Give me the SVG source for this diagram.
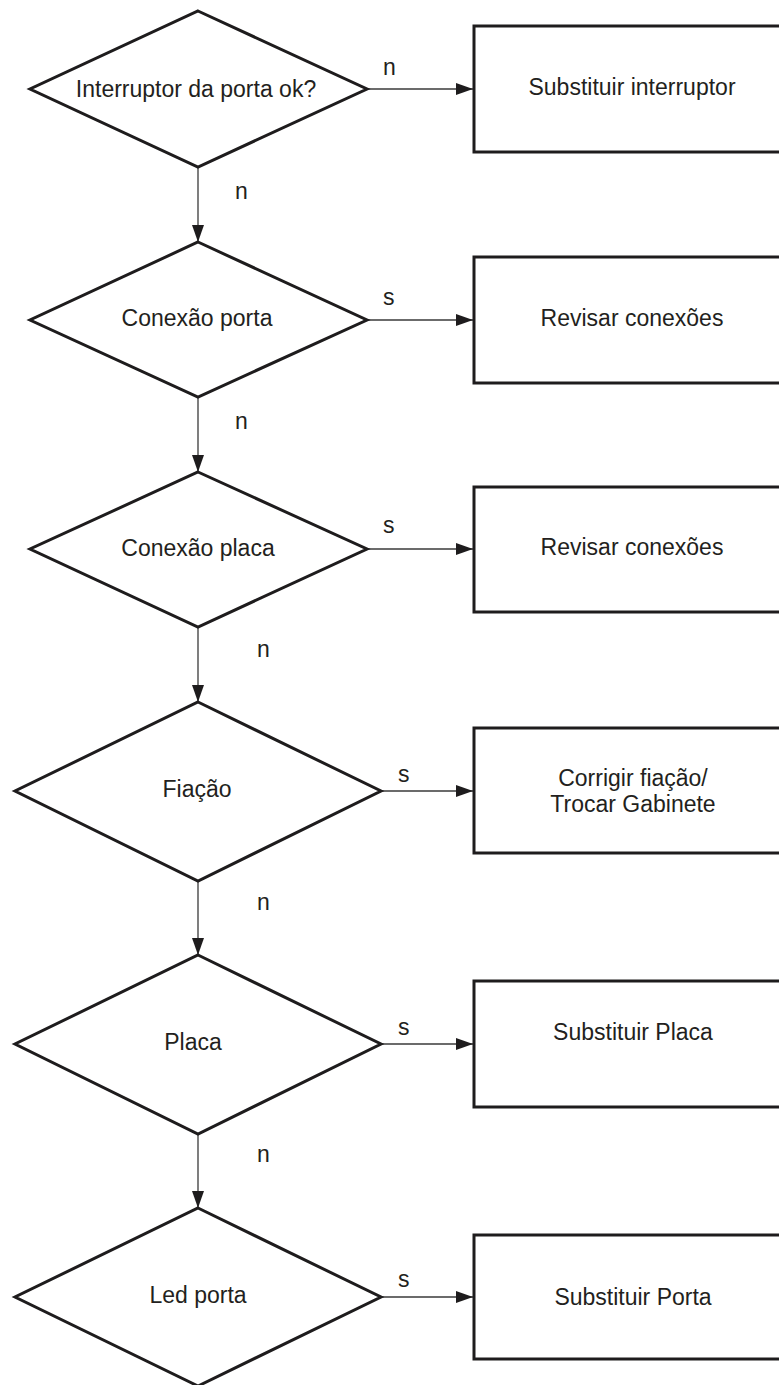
<svg xmlns="http://www.w3.org/2000/svg" width="779" height="1385" viewBox="0 0 779 1385">
<style>
.shape{fill:#ffffff;stroke:#1e1c1d;stroke-width:3;stroke-linejoin:miter}
.t{font-family:"Liberation Sans",Arial,sans-serif;font-size:23px;fill:#231f20;text-anchor:middle}
.lbl{font-family:"Liberation Sans",Arial,sans-serif;font-size:23px;fill:#231f20}
.c{fill:none;stroke:#3a3a3a;stroke-width:1.3}
</style>
<defs>
<marker id="arr" markerUnits="userSpaceOnUse" markerWidth="17" markerHeight="12" refX="17" refY="6" orient="auto">
<path d="M0,0 L17,6 L0,12 Z" fill="#1e1c1d"/>
</marker>
</defs>
<rect width="779" height="1385" fill="#ffffff"/>
<g id="connectors">
<line class="c" x1="367" y1="89" x2="473" y2="89" marker-end="url(#arr)"/>
<line class="c" x1="198" y1="167" x2="198" y2="242" marker-end="url(#arr)"/>
<line class="c" x1="367" y1="320" x2="473" y2="320" marker-end="url(#arr)"/>
<line class="c" x1="198" y1="397" x2="198" y2="472" marker-end="url(#arr)"/>
<line class="c" x1="367" y1="549" x2="473" y2="549" marker-end="url(#arr)"/>
<line class="c" x1="198" y1="627" x2="198" y2="702" marker-end="url(#arr)"/>
<line class="c" x1="381" y1="791" x2="473" y2="791" marker-end="url(#arr)"/>
<line class="c" x1="198" y1="881" x2="198" y2="955" marker-end="url(#arr)"/>
<line class="c" x1="381" y1="1044" x2="473" y2="1044" marker-end="url(#arr)"/>
<line class="c" x1="198" y1="1134" x2="198" y2="1208" marker-end="url(#arr)"/>
<line class="c" x1="381" y1="1297" x2="473" y2="1297" marker-end="url(#arr)"/>
<text class="lbl" x="383" y="75">n</text>
<text class="lbl" x="235" y="199">n</text>
<text class="lbl" x="383" y="305">s</text>
<text class="lbl" x="235" y="429">n</text>
<text class="lbl" x="383" y="533">s</text>
<text class="lbl" x="257" y="657">n</text>
<text class="lbl" x="398" y="782">s</text>
<text class="lbl" x="257" y="910">n</text>
<text class="lbl" x="398" y="1035">s</text>
<text class="lbl" x="257" y="1162">n</text>
<text class="lbl" x="398" y="1287">s</text>
</g>
<g id="d1"><polygon class="shape" points="198,11 367,89 198,167 30,89"/><text class="t" x="196" y="97">Interruptor da porta ok?</text></g>
<g id="b1"><rect class="shape" x="474" y="26" width="330" height="126"/><text class="t" x="632" y="95">Substituir interruptor</text></g>
<g id="d2"><polygon class="shape" points="198,242 367,320 198,397 30,320"/><text class="t" x="197" y="326">Conexão porta</text></g>
<g id="b2"><rect class="shape" x="474" y="257" width="330" height="126"/><text class="t" x="632" y="326">Revisar conexões</text></g>
<g id="d3"><polygon class="shape" points="198,472 367,549 198,627 30,549"/><text class="t" x="198" y="556">Conexão placa</text></g>
<g id="b3"><rect class="shape" x="474" y="487" width="330" height="125"/><text class="t" x="632" y="555">Revisar conexões</text></g>
<g id="d4"><polygon class="shape" points="198,702 381,791 198,881 15,791"/><text class="t" x="197" y="797">Fiação</text></g>
<g id="b4"><rect class="shape" x="474" y="728" width="330" height="125"/><text class="t" x="633" y="786">Corrigir fiação/</text><text class="t" x="633" y="812">Trocar Gabinete</text></g>
<g id="d5"><polygon class="shape" points="198,955 381,1044 198,1134 15,1044"/><text class="t" x="193" y="1050">Placa</text></g>
<g id="b5"><rect class="shape" x="474" y="981" width="330" height="126"/><text class="t" x="633" y="1040">Substituir Placa</text></g>
<g id="d6"><polygon class="shape" points="198,1208 381,1297 198,1386 15,1297"/><text class="t" x="198" y="1303">Led porta</text></g>
<g id="b6"><rect class="shape" x="474" y="1235" width="330" height="124"/><text class="t" x="633" y="1305">Substituir Porta</text></g>
</svg>
